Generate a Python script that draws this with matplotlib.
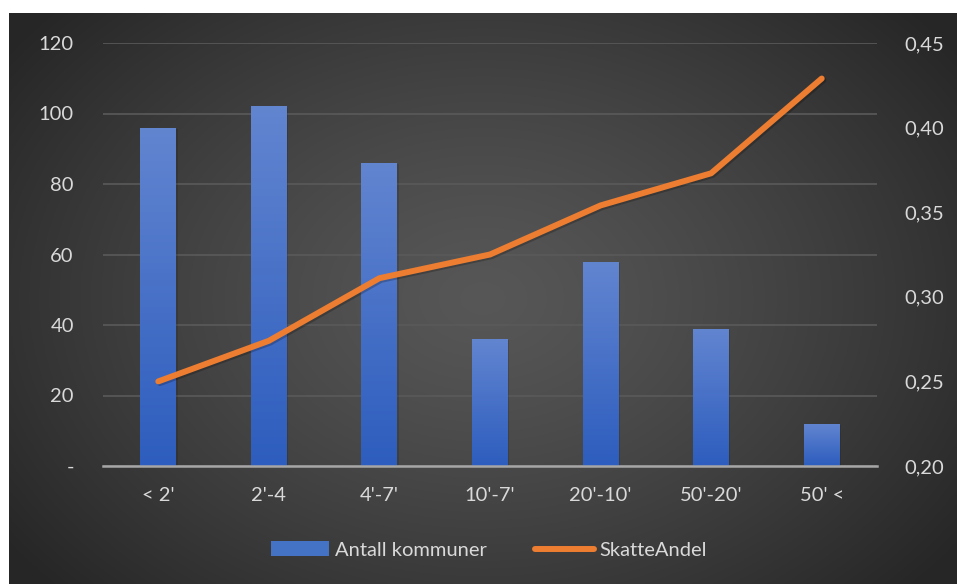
import numpy as np
import matplotlib.pyplot as plt
from matplotlib.patches import Rectangle
import matplotlib.patheffects as pe

# kommune groups by population
groups = ["< 2'", "2'-4", "4'-7'", "10'-7'", "20'-10'", "50'-20'", "50' <"]
antall = [96, 102, 86, 36, 58, 39, 12]
skatteandel = [0.250, 0.274, 0.311, 0.325, 0.354, 0.373, 0.429]

left_ticks = [0, 20, 40, 60, 80, 100, 120]
right_ticks = [0.20, 0.25, 0.30, 0.35, 0.40, 0.45]

txt = '#d9d9d9'
orange = '#ED7D31'
fs = 14.5
plt.rcParams['font.family'] = ['Lato', 'DejaVu Sans']

fig = plt.figure(figsize=(9.57, 5.84), dpi=100)
fig.patch.set_facecolor('white')

# dark radial background panel
bg = fig.add_axes([9 / 957, 0, 948 / 957, 571 / 584])
yy, xx = np.mgrid[0:1:300j, 0:1:500j]
r = np.sqrt(((xx - 0.5) / 0.62) ** 2 + ((yy - 0.5) / 0.75) ** 2)
r = np.clip(r, 0, 1)
shade = 0.34 - 0.19 * r ** 1.3
bg.imshow(np.dstack([shade] * 3), aspect='auto', extent=[0, 1, 0, 1])
bg.set_axis_off()

ax = fig.add_axes([103 / 957, 118 / 584, 774 / 957, 423 / 584])
ax.patch.set_alpha(0)
x = np.arange(len(groups))
ax.set_xlim(-0.5, len(groups) - 0.5)
ax.set_ylim(0, 120)

bars = ax.bar(x, antall, width=0.325, color='none', lw=0, zorder=2)
grad = np.linspace(0, 1, 100).reshape(-1, 1)
top_c = np.array([0x62, 0x85, 0xD0]) / 255
bot_c = np.array([0x2D, 0x5D, 0xBE]) / 255
for b in bars:
    bx, by = b.get_x(), b.get_y()
    bw, bh = b.get_width(), b.get_height()
    # faint shadow to the right of each bar
    sh = Rectangle((bx + 0.012, by), bw, bh - 0.3,
                   facecolor='black', alpha=0.12, lw=0, zorder=1.5)
    ax.add_patch(sh)
    img = top_c * grad + bot_c * (1 - grad)
    im = ax.imshow(img.reshape(100, 1, 3), extent=[bx, bx + bw, by, by + bh],
                   origin='lower', aspect='auto', zorder=2.1)
    im.set_clip_path(b)

ax.set_yticks(left_ticks)
ax.set_yticklabels(['-' if v == 0 else str(v) for v in left_ticks])
ax.set_xticks(x)
ax.set_xticklabels(groups)
ax.grid(axis='y', color='#5a5a5a', lw=1.2, zorder=0)
ax.set_axisbelow(True)
for s in ['top', 'right', 'left']:
    ax.spines[s].set_visible(False)
ax.spines['bottom'].set_color('#a6a6a6')
ax.spines['bottom'].set_linewidth(1.8)
ax.spines['bottom'].set_zorder(3)
ax.tick_params(axis='y', length=0, pad=21, labelsize=fs, labelcolor=txt)
ax.tick_params(axis='x', length=0, pad=15, labelsize=fs, labelcolor=txt)
ax.set_aspect('auto')

ax2 = ax.twinx()
ax2.set_ylim(0.20, 0.45)
ax2.plot(x, skatteandel, color=orange, lw=4.3, solid_capstyle='round',
         solid_joinstyle='round', zorder=4,
         path_effects=[pe.SimpleLineShadow(offset=(1.2, -1.2), alpha=0.22),
                       pe.Normal()])
ax2.set_yticks(right_ticks)
ax2.set_yticklabels([f'{v:.2f}'.replace('.', ',') for v in right_ticks])
ax2.tick_params(axis='y', length=0, pad=20, labelsize=fs, labelcolor=txt)
for s in ax2.spines.values():
    s.set_visible(False)

# legend entries
h1 = Rectangle((0, 0), 1, 1, facecolor='#4472C4')
h2 = plt.Line2D([0], [0], color=orange, lw=4.3, solid_capstyle='round')
leg = fig.legend([h1, h2], ['Antall kommuner', 'SkatteAndel'],
                 loc='center', bbox_to_anchor=(489 / 957, 1 - 550 / 584),
                 ncol=2, frameon=False, fontsize=fs, labelcolor=txt,
                 handlelength=2.9, handletextpad=0.3, columnspacing=2.4)

fig.savefig('out.png', dpi=100, facecolor=fig.get_facecolor())
